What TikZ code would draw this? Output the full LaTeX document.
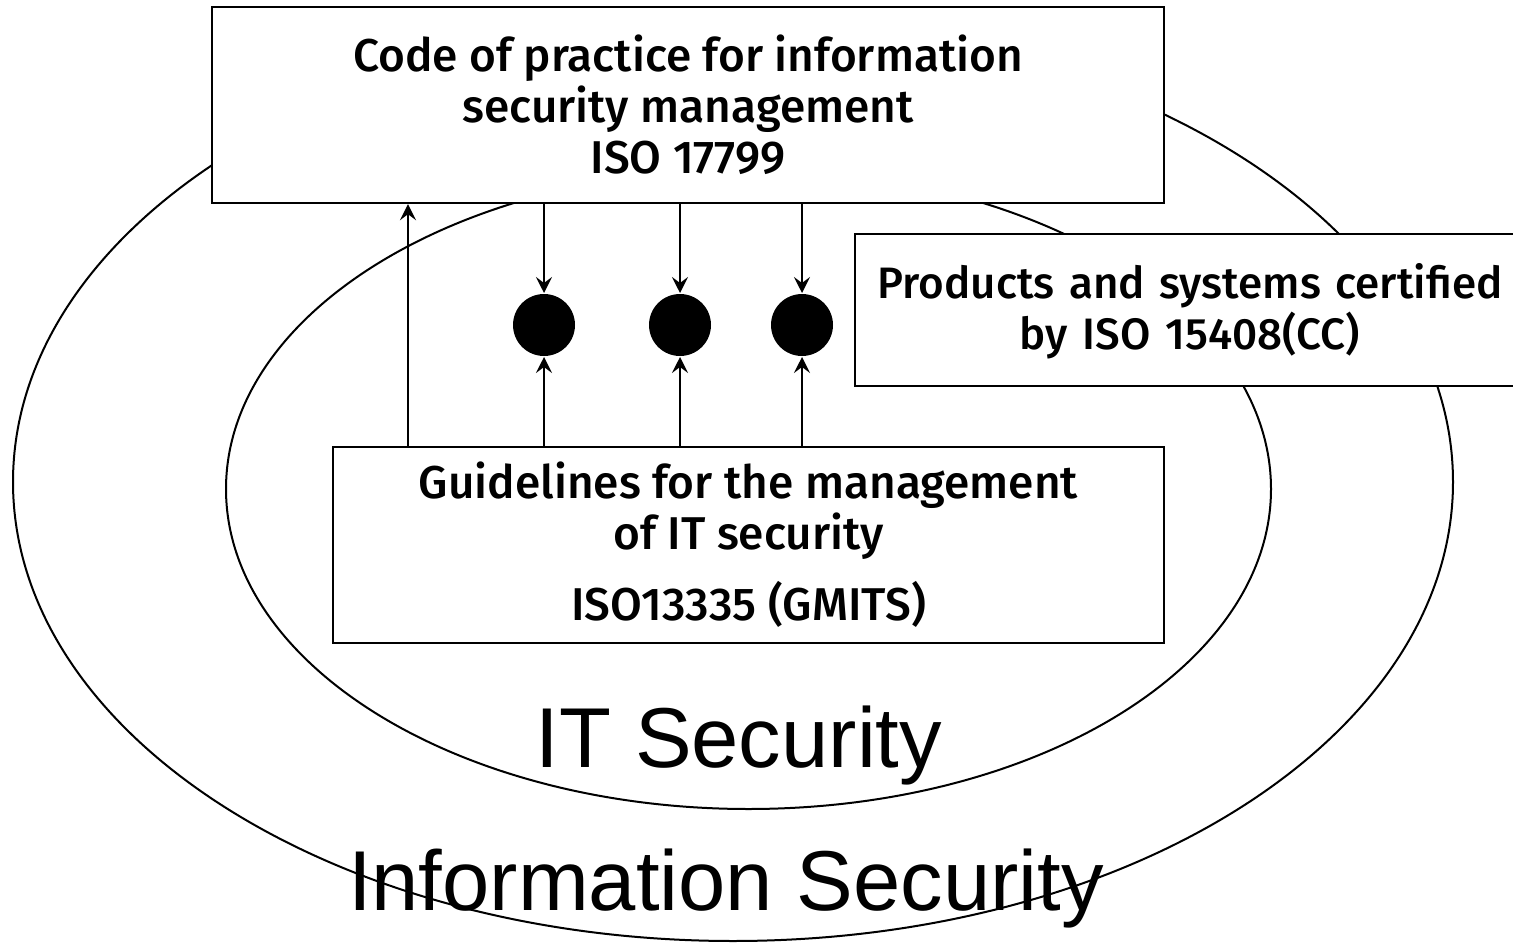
\documentclass[tikz,border=0pt]{standalone}
\usepackage{fontspec}
\usetikzlibrary{arrows.meta}
\newfontfamily\labelfont{Fira Sans Medium}
\newfontfamily\bigfont{Liberation Sans}
\begin{document}
\begin{tikzpicture}[x=1pt,y=-1pt,
  line width=2pt,
  docbox/.style={draw, fill=white, line width=2.4pt, align=center, inner sep=0pt,
    font=\labelfont\fontsize{46}{51}\selectfont},
  dot/.style={circle, fill=black, draw=none, minimum size=62pt, inner sep=0pt},
  arr/.style={-{Stealth[length=16pt,width=16pt,inset=6pt]}},
  scope label/.style={anchor=base, inner sep=0pt, font=\bigfont\fontsize{85}{85}\selectfont}]
  \useasboundingbox (0,0) rectangle (1513,944);
  \clip (0,0) rectangle (1513,944);

  % the two nested domains
  \draw (733,482) ellipse [x radius=720, y radius=459];
  \draw (748.5,489) ellipse [x radius=522.5, y radius=320];

  % standards
  \node[docbox, minimum width=952pt, minimum height=196pt] (cop) at (688,105)
    {Code of practice for information\\ security management\\ ISO 17799};
  \node[docbox, minimum width=831pt, minimum height=196pt] (gmits) at (748.5,545)
    {Guidelines for the management\\ of IT security\\[20pt] ISO13335 (GMITS)};
  \node[docbox, minimum width=670pt, minimum height=152pt, text width=660pt,
    font=\labelfont\fontsize{44}{51}\selectfont] (cc) at (1190,310)
    {\rule{0pt}{38pt}Products and systems certified\\ by ISO 15408(CC)};

  % shared controls
  \node[dot] (c1) at (544,325) {};
  \node[dot] (c2) at (680,325) {};
  \node[dot] (c3) at (802,325) {};

  \foreach \c in {c1,c2,c3} {
    \draw[arr] (\c |- cop.south) -- (\c.north);
    \draw[arr] (\c |- gmits.north) -- (\c.south);
  }
  \coordinate (up) at (408,446);
  \draw[arr] (up) -- (up |- cop.south);

  % domain names
  \node[scope label] (its) at (739,767) {IT Security};
  \node[scope label] (infs) at (726,910) {Information Security};
\end{tikzpicture}
\end{document}
